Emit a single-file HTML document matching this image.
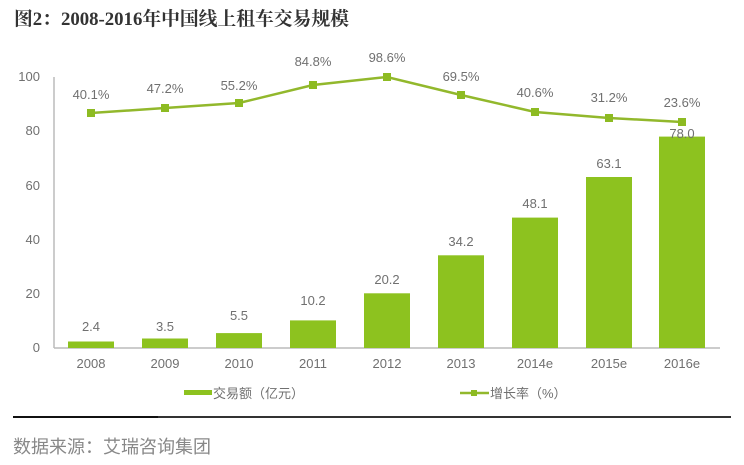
<!DOCTYPE html>
<html><head><meta charset="utf-8"><style>
html,body{margin:0;padding:0;background:#fff;}
body{width:744px;height:465px;overflow:hidden;position:relative;}
svg{position:absolute;left:0;top:0;}
</style></head><body>
<svg width="744" height="465" viewBox="0 0 744 465" xmlns="http://www.w3.org/2000/svg">
<text x="14" y="25" font-family="'Liberation Serif','Noto Serif CJK SC',serif" font-weight="bold" font-size="18.8" fill="#333">图2：2008-2016年中国线上租车交易规模</text>
<!-- axes -->
<line x1="54" y1="77" x2="54" y2="348" stroke="#bbb" stroke-width="1.5"/>
<line x1="54" y1="348" x2="720" y2="348" stroke="#bbb" stroke-width="1.5"/>
<g font-family="'Liberation Sans',sans-serif" font-size="13" fill="#707070" text-anchor="end">
<text x="40" y="81">100</text>
<text x="40" y="135">80</text>
<text x="40" y="190">60</text>
<text x="40" y="244">40</text>
<text x="40" y="298">20</text>
<text x="40" y="352">0</text>
</g>
<!-- bars -->
<g fill="#8dc21f">
<rect x="68" y="341.5" width="46" height="6.5"/>
<rect x="142" y="338.5" width="46" height="9.5"/>
<rect x="216" y="333.1" width="46" height="14.9"/>
<rect x="290" y="320.4" width="46" height="27.6"/>
<rect x="364" y="293.3" width="46" height="54.7"/>
<rect x="438" y="255.3" width="46" height="92.7"/>
<rect x="512" y="217.6" width="46" height="130.4"/>
<rect x="586" y="177" width="46" height="171"/>
<rect x="659" y="136.6" width="46" height="211.4"/>
</g>
<g font-family="'Liberation Sans',sans-serif" font-size="13" fill="#707070" text-anchor="middle">
<text x="91" y="331">2.4</text>
<text x="165" y="331">3.5</text>
<text x="239" y="320">5.5</text>
<text x="313" y="305">10.2</text>
<text x="387" y="284">20.2</text>
<text x="461" y="246">34.2</text>
<text x="535" y="208">48.1</text>
<text x="609" y="168">63.1</text>
<text x="682" y="138">78.0</text>
<!-- x labels -->
<text x="91" y="368">2008</text>
<text x="165" y="368">2009</text>
<text x="239" y="368">2010</text>
<text x="313" y="368">2011</text>
<text x="387" y="368">2012</text>
<text x="461" y="368">2013</text>
<text x="535" y="368">2014e</text>
<text x="609" y="368">2015e</text>
<text x="682" y="368">2016e</text>
<!-- pct labels -->
<text x="91" y="99">40.1%</text>
<text x="165" y="93">47.2%</text>
<text x="239" y="90">55.2%</text>
<text x="313" y="66">84.8%</text>
<text x="387" y="62">98.6%</text>
<text x="461" y="81">69.5%</text>
<text x="535" y="97">40.6%</text>
<text x="609" y="102">31.2%</text>
<text x="682" y="107">23.6%</text>
</g>
<!-- line -->
<polyline points="91,113 165,108 239,103 313,85 387,77 461,95 535,112 609,118 682,122" fill="none" stroke="#92b82c" stroke-width="2.5"/>
<g fill="#8dbb22">
<rect x="87" y="109" width="8" height="8"/>
<rect x="161" y="104" width="8" height="8"/>
<rect x="235" y="99" width="8" height="8"/>
<rect x="309" y="81" width="8" height="8"/>
<rect x="383" y="73" width="8" height="8"/>
<rect x="457" y="91" width="8" height="8"/>
<rect x="531" y="108" width="8" height="8"/>
<rect x="605" y="114" width="8" height="8"/>
<rect x="678" y="118" width="8" height="8"/>
</g>
<!-- legend -->
<rect x="184" y="390" width="28" height="5" fill="#8dc21f"/>
<text x="213" y="398" font-family="'Liberation Sans','Noto Sans CJK SC',sans-serif" font-size="13" fill="#707070">交易额（亿元）</text>
<line x1="460" y1="393" x2="489" y2="393" stroke="#92b82c" stroke-width="2.5"/>
<rect x="471" y="390" width="6" height="6" fill="#8dbb22"/>
<text x="490" y="398" font-family="'Liberation Sans','Noto Sans CJK SC',sans-serif" font-size="13" fill="#707070">增长率（%）</text>
<!-- separator -->
<line x1="13" y1="417" x2="158" y2="417" stroke="#111" stroke-width="2"/>
<line x1="158" y1="417" x2="731" y2="417" stroke="#333" stroke-width="2"/>
<text x="13" y="453" font-family="'Liberation Sans','Noto Sans CJK SC',sans-serif" font-size="18" fill="#888">数据来源：艾瑞咨询集团</text>
</svg>
</body></html>
